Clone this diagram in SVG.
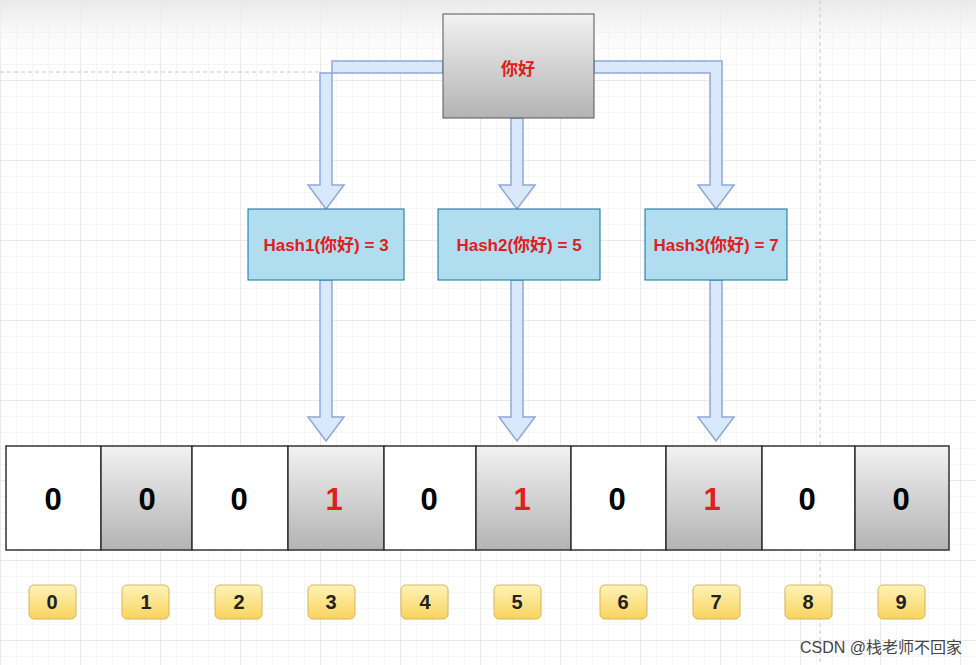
<svg xmlns="http://www.w3.org/2000/svg" width="976" height="665" viewBox="0 0 976 665">
<defs>
<pattern id="g" width="16" height="16" patternUnits="userSpaceOnUse"><path d="M16 0H0V16" fill="none" stroke="#ececec" stroke-width="1"/></pattern>
<pattern id="G" width="80" height="80" patternUnits="userSpaceOnUse"><path d="M80 0H0V80" fill="none" stroke="#dedede" stroke-width="1"/></pattern>
<linearGradient id="gray" x1="0" y1="0" x2="0" y2="1"><stop offset="0" stop-color="#f2f2f2"/><stop offset="1" stop-color="#b3b3b3"/></linearGradient>
<linearGradient id="gold" x1="0" y1="0" x2="0" y2="1"><stop offset="0" stop-color="#fff3b8"/><stop offset="1" stop-color="#f9d35e"/></linearGradient>
<linearGradient id="top" x1="0" y1="0" x2="0" y2="1"><stop offset="0" stop-color="#e9e9e9"/><stop offset="1" stop-color="#fff" stop-opacity="0"/></linearGradient>
</defs>
<style>
.arr{fill:#dae8fc;stroke:#8ea9d8;stroke-width:1.5}
.cell{stroke:#333;stroke-width:1.5}
.hb{fill:#b1ddf0;stroke:#10739e;stroke-width:1}
.t{font-family:"Liberation Sans","Noto Sans CJK SC",sans-serif;font-weight:bold;text-anchor:middle}
.ht{font-size:17px;fill:#e0201a}
.ct{font-size:31px}
.bt{font-size:20px;fill:#222}
</style>
<rect width="976" height="665" fill="#fff"/>
<rect width="976" height="665" fill="url(#g)"/>
<rect width="976" height="665" fill="url(#G)"/>
<rect width="976" height="70" fill="url(#top)"/>
<path d="M0 72H320M820 0V665" stroke="#c8c8c8" stroke-dasharray="4 3" fill="none"/>
<g id="connectors">
<path class="arr" d="M443 61H332V185H344L326 209L308 185H320V73H443Z"/>
<path class="arr" d="M594 61H722V185H734L716 209L698 185H710V73H594Z"/>
<path class="arr" d="M511 118H523V185H535L517 209L499 185H511Z"/>
<path class="arr" d="M320 280H332V417H344L326 441L308 417H320Z"/>
<path class="arr" d="M511 280H523V417H535L517 441L499 417H511Z"/>
<path class="arr" d="M710 280H722V417H734L716 441L698 417H710Z"/>
</g>
<g id="src"><rect x="443" y="14" width="151" height="104" fill="url(#gray)" stroke="#555"/><text class="t ht" x="518" y="75" font-size="18">你好</text></g>
<g id="h1"><rect class="hb" x="248" y="209" width="156" height="71"/><text class="t ht" x="326" y="251">Hash1(你好) = 3</text></g>
<g id="h2"><rect class="hb" x="438" y="209" width="162" height="71"/><text class="t ht" x="519" y="251">Hash2(你好) = 5</text></g>
<g id="h3"><rect class="hb" x="645" y="209" width="142" height="71"/><text class="t ht" x="716" y="251">Hash3(你好) = 7</text></g>
<g id="cells">
<rect class="cell" x="6" y="446" width="95" height="104" fill="#fff"/>
<rect class="cell" x="101" y="446" width="91" height="104" fill="url(#gray)"/>
<rect class="cell" x="192" y="446" width="96" height="104" fill="#fff"/>
<rect class="cell" x="288" y="446" width="96" height="104" fill="url(#gray)"/>
<rect class="cell" x="384" y="446" width="92" height="104" fill="#fff"/>
<rect class="cell" x="476" y="446" width="95" height="104" fill="url(#gray)"/>
<rect class="cell" x="571" y="446" width="95" height="104" fill="#fff"/>
<rect class="cell" x="666" y="446" width="96" height="104" fill="url(#gray)"/>
<rect class="cell" x="762" y="446" width="93" height="104" fill="#fff"/>
<rect class="cell" x="855" y="446" width="94" height="104" fill="url(#gray)"/>
<g class="t ct">
<text x="53" y="510">0</text><text x="147" y="510">0</text><text x="239" y="510">0</text><text x="334" y="510" fill="#e0201a">1</text><text x="429" y="510">0</text><text x="522" y="510" fill="#e0201a">1</text><text x="617" y="510">0</text><text x="712" y="510" fill="#e0201a">1</text><text x="807" y="510">0</text><text x="901" y="510">0</text>
</g>
</g>
<g id="idx">
<g fill="url(#gold)" stroke="#d6b656">
<rect x="29" y="585" width="47" height="34" rx="5"/><rect x="122" y="585" width="47" height="34" rx="5"/><rect x="215" y="585" width="47" height="34" rx="5"/><rect x="308" y="585" width="47" height="34" rx="5"/><rect x="401" y="585" width="47" height="34" rx="5"/><rect x="494" y="585" width="47" height="34" rx="5"/><rect x="600" y="585" width="47" height="34" rx="5"/><rect x="693" y="585" width="47" height="34" rx="5"/><rect x="785" y="585" width="47" height="34" rx="5"/><rect x="878" y="585" width="47" height="34" rx="5"/>
</g>
<g class="t bt">
<text x="52" y="609">0</text><text x="146" y="609">1</text><text x="239" y="609">2</text><text x="331" y="609">3</text><text x="425" y="609">4</text><text x="517" y="609">5</text><text x="623" y="609">6</text><text x="716" y="609">7</text><text x="808" y="609">8</text><text x="901" y="609">9</text>
</g>
</g>
<text x="962" y="653" font-family="Liberation Sans,Noto Sans CJK SC,sans-serif" font-size="16" fill="#444" text-anchor="end">CSDN @栈老师不回家</text>
</svg>
